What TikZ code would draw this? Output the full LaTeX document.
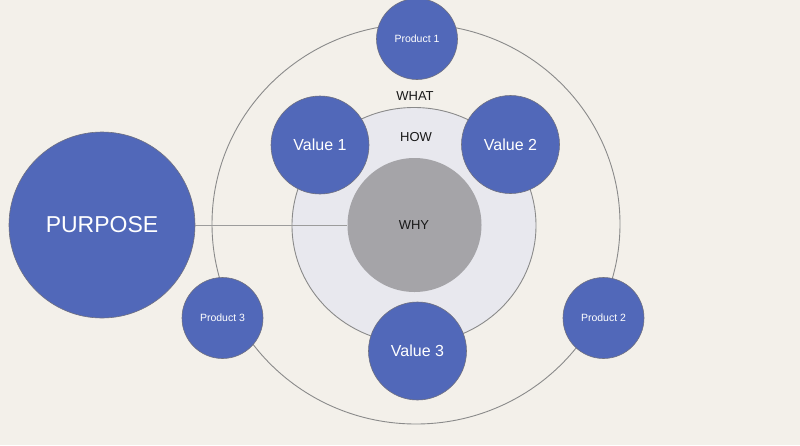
\documentclass[tikz,border=0pt]{standalone}
\usepackage{fontspec}
\setmainfont{Liberation Sans}
\usetikzlibrary{shapes.geometric}
\definecolor{bg}{HTML}{F3F0EA}
\definecolor{blu}{HTML}{5168B9}
\definecolor{ring}{HTML}{8A8A8A}
\definecolor{lightfill}{HTML}{E8E8EE}
\definecolor{whyfill}{HTML}{A5A4A8}
\definecolor{bordr}{HTML}{6E7080}
\tikzset{
  bluedot/.style={circle, fill=blu, draw=bordr, line width=0.6pt, inner sep=0pt, text=white},
  ringline/.style={ellipse, draw=ring, line width=0.9pt, inner sep=0pt},
  lbl/.style={text=black!90, font=\fontsize{13}{15}\selectfont, inner sep=0pt}
}
\begin{document}
\begin{tikzpicture}[x=1pt,y=-1pt]
\fill[bg] (0,0) rectangle (800,445);
\useasboundingbox (0,0) rectangle (800,445);
\node[ringline, minimum width=408pt, minimum height=400pt] (outer) at (416,224) {};
\node[ringline, fill=lightfill, minimum width=244pt, minimum height=236pt] (light) at (414,225.5) {};
\node[circle, fill=whyfill, inner sep=0pt, minimum size=134pt] (why) at (414.5,225) {};
\node[bluedot, minimum size=186pt, font=\fontsize{23}{27}\selectfont] (purpose) at (102,225) {PURPOSE};
\draw[draw=ring!85, line width=0.9pt] (purpose) -- (why);
\node[bluedot, minimum size=98pt, font=\fontsize{16}{19}\selectfont] (v1) at (320,145) {Value 1};
\node[bluedot, minimum size=98pt, font=\fontsize{16}{19}\selectfont] (v2) at (510.5,144.5) {Value 2};
\node[bluedot, minimum size=98pt, font=\fontsize{16}{19}\selectfont] (v3) at (417.5,351) {Value 3};
\node[bluedot, minimum size=81pt, font=\fontsize{10.5}{12}\selectfont] (p1) at (417,39) {Product 1};
\node[bluedot, minimum size=81pt, font=\fontsize{10.5}{12}\selectfont] (p2) at (603.5,318) {Product 2};
\node[bluedot, minimum size=81pt, font=\fontsize{10.5}{12}\selectfont] (p3) at (222.5,318) {Product 3};
\node[lbl] (what) at (415,96) {WHAT};
\node[lbl] (how) at (416,137) {HOW};
\node[lbl] (whyl) at (414,225) {WHY};
\end{tikzpicture}
\end{document}
